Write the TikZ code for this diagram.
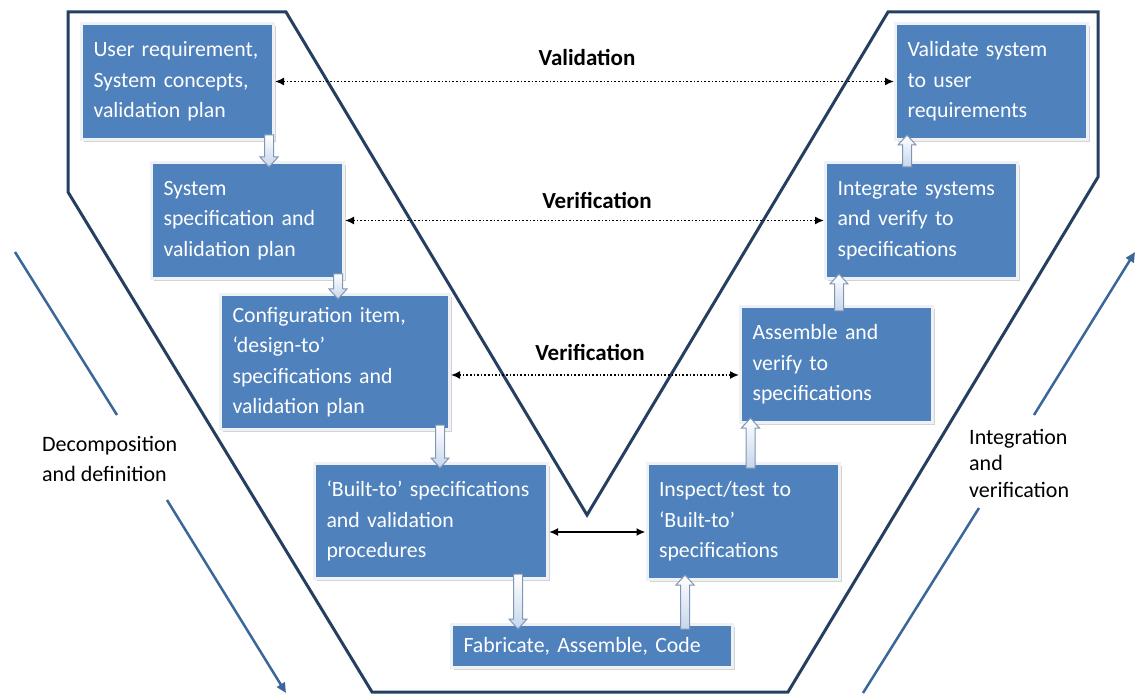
\documentclass[tikz,border=0pt]{standalone}
\usepackage{fontspec}
\setmainfont{Carlito}
\usetikzlibrary{arrows.meta,calc,shadows}
\definecolor{boxblue}{HTML}{4F81BD}
\definecolor{boxrim}{HTML}{EEF1F6}
\definecolor{vnavy}{HTML}{243F60}
\definecolor{flowblue}{HTML}{3A6699}
\definecolor{arrowrim}{HTML}{8096B4}
\definecolor{arrowfill}{HTML}{C6D6EC}
\newcommand{\boxfont}{\fontsize{21.8}{30.5}\selectfont}
% vertical hollow arrow from #1 towards #2 (x taken from #1)
\newcommand{\hollowarrow}[2]{%
  \draw[hollow] let \p1=(#1), \p2=(#2), \n1={ifthenelse(\y2>\y1,1,-1)} in
    (\x1-4.5pt,\y1-\n1*6pt) -- (\x1-4.5pt,\y2-\n1*4pt) -- (\x1-9pt,\y2-\n1*4pt)
    -- (\x1,\y2+\n1*6pt) -- (\x1+9pt,\y2-\n1*4pt) -- (\x1+4.5pt,\y2-\n1*4pt)
    -- (\x1+4.5pt,\y1-\n1*6pt) -- cycle;}
\begin{document}
\begin{tikzpicture}[x=1pt, y=-1pt, >={Latex[length=9pt,width=8pt]},
    stage/.style={rectangle, fill=boxblue, draw=boxrim, line width=3pt, text=white,
      font=\boxfont, align=left, inner xsep=12pt, inner ysep=0pt,
      minimum width=192, minimum height=116, text width=168,
      drop shadow={shadow xshift=2.5pt, shadow yshift=-2.5pt, opacity=0.35}},
    hollow/.style={draw=arrowrim, line width=1pt, top color=white, bottom color=arrowfill},
    phase/.style={font=\fontsize{23}{28}\selectfont\bfseries},
    sidetext/.style={align=left, anchor=west, inner sep=0pt}]
  \useasboundingbox (0,0) rectangle (1136,695);
  % the V outline
  \draw[vnavy, line width=3pt, line join=miter] (68,12) -- (286,12) -- (587,515) -- (888,12)
    -- (1098,12) -- (1098,177) -- (788,692) -- (372,692) -- (68,192) -- cycle;
  % side arrows
  \node[sidetext, font=\fontsize{22}{30}\selectfont] (decomp) at (42,459) {Decomposition\\and definition};
  \node[sidetext, font=\fontsize{22}{26.5}\selectfont] (integr) at (969,463) {Integration\\and\\verification};
  \coordinate (dtop) at (15,252);
  \coordinate (dgap1) at (117,415);
  \coordinate (dgap2) at (167,500);
  \coordinate (dtip) at (286,693);
  \coordinate (itail) at (863,693);
  \coordinate (igap1) at (979,508);
  \coordinate (igap2) at (1034,415);
  \coordinate (itip) at (1135,252);
  \draw[flowblue, line width=2.5pt] (dtop) -- (dgap1);
  \draw[flowblue, line width=2.5pt, -{Triangle[length=10pt,width=9pt]}] (dgap2) -- (dtip);
  \draw[flowblue, line width=2.5pt] (itail) -- (igap1);
  \draw[flowblue, line width=2.5pt, -{Triangle[length=10pt,width=9pt]}] (igap2) -- (itip);
  % stages
  \node[stage] (ureq) at (177.5,81.5) {User requirement,\\System concepts,\\validation plan};
  \node[stage] (sspec) at (247.5,220.5) {System\\specification and\\validation plan};
  \node[stage, minimum width=229, minimum height=135, text width=205] (cfg) at (335,362)
    {Configuration item,\\‘design-to’\\specifications and\\validation plan};
  \node[stage, minimum width=233, minimum height=115, text width=209] (built) at (431,521)
    {‘Built-to’ specifications\\and validation\\procedures};
  \node[stage, minimum width=281, minimum height=43, text width=257] (fab) at (592,646)
    {Fabricate, Assemble, Code};
  \node[stage] (insp) at (743,521.5) {Inspect/test to\\‘Built-to’\\specifications};
  \node[stage] (asm) at (836.5,364.5) {Assemble and\\verify to\\specifications};
  \node[stage] (integ) at (921.5,220.5) {Integrate systems\\and verify to\\specifications};
  \node[stage] (valsys) at (991.5,81.5) {Validate system\\to user\\requirements};
  % flow between stages
  \hollowarrow{[xshift=-6pt]ureq.south east}{sspec.north}
  \hollowarrow{[xshift=-7pt]sspec.south east}{cfg.north}
  \hollowarrow{[xshift=-11pt]cfg.south east}{built.north}
  \hollowarrow{[xshift=-31pt]built.south east}{fab.north}
  \hollowarrow{[xshift=-49pt]fab.north east}{insp.south}
  \hollowarrow{[xshift=105pt]insp.north west}{asm.south}
  \hollowarrow{[xshift=100pt]asm.north west}{integ.south}
  \hollowarrow{[xshift=83pt]integ.north west}{valsys.south}
  % validation and verification links
  \node[phase] (vallab) at (587,58) {Validation};
  \node[phase] (ver1) at (597,200) {Verification};
  \node[phase] (ver2) at (590,352) {Verification};
  \draw[<->, dotted, line width=1.6pt] (ureq.east) -- (valsys.west);
  \draw[<->, dotted, line width=1.6pt] (sspec.east) -- (integ.west);
  \coordinate (v2l) at ([yshift=-13pt]cfg.east);
  \draw[<->, dotted, line width=1.6pt] (v2l) -- (v2l -| asm.west);
  \coordinate (bl) at ([yshift=-11pt]built.east);
  \draw[<->, line width=1.8pt] (bl) -- (bl -| insp.west);
\end{tikzpicture}
\end{document}
